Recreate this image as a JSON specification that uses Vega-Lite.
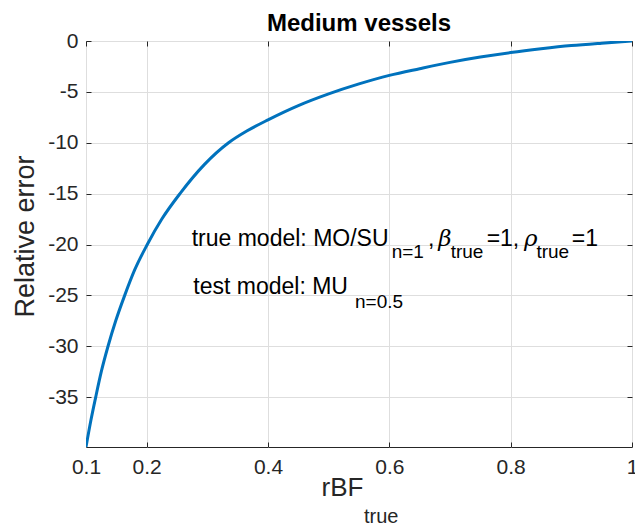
{
  "$schema": "https://vega.github.io/schema/vega-lite/v6.json",
  "width": 546,
  "height": 406,
  "autosize": {"type": "none"},
  "padding": {"left": 86, "top": 41, "right": 3, "bottom": 81},
  "config": {
    "font": "Liberation Sans",
    "view": {"stroke": "#262626", "strokeWidth": 1},
    "axis": {
      "domain": false,
      "gridColor": "#dedede",
      "gridWidth": 1,
      "tickColor": "#262626",
      "tickSize": -5,
      "labelColor": "#262626",
      "labelFont": "Liberation Sans",
      "labelFontSize": 21,
      "labelFlush": false,
      "titleFont": "Liberation Sans",
      "titleFontSize": 26,
      "titleFontWeight": "normal",
      "titleColor": "#262626"
    }
  },
  "datasets": {
    "curve": [
      {"rBF": 0.100, "err": -39.9},
      {"rBF": 0.108, "err": -37.3},
      {"rBF": 0.116, "err": -35.0},
      {"rBF": 0.1252, "err": -32.5},
      {"rBF": 0.1363, "err": -30.0},
      {"rBF": 0.149, "err": -27.5},
      {"rBF": 0.1638, "err": -25.0},
      {"rBF": 0.1802, "err": -22.5},
      {"rBF": 0.201, "err": -20.0},
      {"rBF": 0.225, "err": -17.5},
      {"rBF": 0.2549, "err": -15.0},
      {"rBF": 0.295, "err": -12.15},
      {"rBF": 0.335, "err": -10.0},
      {"rBF": 0.365, "err": -8.85},
      {"rBF": 0.400, "err": -7.75},
      {"rBF": 0.450, "err": -6.35},
      {"rBF": 0.500, "err": -5.2},
      {"rBF": 0.550, "err": -4.22},
      {"rBF": 0.600, "err": -3.38},
      {"rBF": 0.650, "err": -2.72},
      {"rBF": 0.700, "err": -2.1},
      {"rBF": 0.750, "err": -1.58},
      {"rBF": 0.800, "err": -1.14},
      {"rBF": 0.850, "err": -0.77},
      {"rBF": 0.900, "err": -0.45},
      {"rBF": 0.950, "err": -0.21},
      {"rBF": 1.000, "err": 0.0}
    ],
    "notes": [
      {"x": 0.55, "y": 0.98, "label": "Medium vessels", "kind": "title"},
      {"x": 0.2742, "y": -20.18, "label": "true model: MO/SU", "kind": "main"},
      {"x": 0.6039, "y": -21.29, "label": "n=1", "kind": "sub"},
      {"x": 0.6637, "y": -20.18, "label": ",", "kind": "main"},
      {"x": 0.6807, "y": -20.18, "label": "β", "kind": "greek"},
      {"x": 0.7011, "y": -21.29, "label": "true", "kind": "sub"},
      {"x": 0.7604, "y": -20.18, "label": "=1,", "kind": "main"},
      {"x": 0.8220, "y": -20.18, "label": "ρ", "kind": "greek"},
      {"x": 0.8425, "y": -21.29, "label": "true", "kind": "sub"},
      {"x": 0.9006, "y": -20.18, "label": "=1", "kind": "main"},
      {"x": 0.2769, "y": -24.9, "label": "test model: MU", "kind": "main"},
      {"x": 0.5434, "y": -26.2, "label": "n=0.5", "kind": "sub"},
      {"x": 0.5582, "y": -47.4, "label": "true", "kind": "axissub"}
    ]
  },
  "layer": [
    {
      "data": {"name": "curve"},
      "mark": {"type": "line", "color": "#0072BD", "strokeWidth": 3, "interpolate": "monotone", "clip": true},
      "encoding": {
        "x": {
          "field": "rBF", "type": "quantitative",
          "scale": {"domain": [0.1, 1], "nice": false, "zero": false},
          "axis": {
            "orient": "bottom",
            "values": [0.1, 0.2, 0.4, 0.6, 0.8, 1],
            "labelExpr": "'' + datum.value",
            "labelPadding": 14,
            "labelBaseline": "top",
            "title": "rBF",
            "titleX": 256,
            "titleY": 48,
            "titleBaseline": "alphabetic",
            "titleAlign": "center"
          }
        },
        "y": {
          "field": "err", "type": "quantitative",
          "scale": {"domain": [-39.9, 0], "nice": false, "zero": false},
          "axis": {
            "orient": "left",
            "values": [-35, -30, -25, -20, -15, -10, -5, 0],
            "labelExpr": "'' + datum.value",
            "labelPadding": 13,
            "title": "Relative error",
            "titleFontSize": 27,
            "titleX": -53,
            "titleY": 195,
            "titleAngle": -90,
            "titleBaseline": "alphabetic",
            "titleAlign": "center"
          }
        }
      }
    },
    {
      "data": {"name": "curve"},
      "mark": {"type": "line", "opacity": 0},
      "encoding": {
        "x": {
          "field": "rBF", "type": "quantitative",
          "axis": {"orient": "top", "values": [0.1, 0.2, 0.4, 0.6, 0.8, 1], "labels": false, "grid": false, "title": null}
        },
        "y": {
          "field": "err", "type": "quantitative",
          "axis": {"orient": "right", "values": [-35, -30, -25, -20, -15, -10, -5, 0], "labels": false, "grid": false, "title": null}
        }
      }
    },
    {
      "data": {"name": "notes"},
      "transform": [{"filter": "datum.kind == 'title'"}],
      "mark": {"type": "text", "align": "center", "baseline": "alphabetic", "fontSize": 24, "fontWeight": "bold", "color": "#000000", "font": "Liberation Sans"},
      "encoding": {
        "x": {"field": "x", "type": "quantitative", "axis": null},
        "y": {"field": "y", "type": "quantitative", "axis": null},
        "text": {"field": "label"}
      }
    },
    {
      "data": {"name": "notes"},
      "transform": [{"filter": "datum.kind == 'main'"}],
      "mark": {"type": "text", "align": "left", "baseline": "alphabetic", "fontSize": 23, "color": "#000000", "font": "Liberation Sans"},
      "encoding": {
        "x": {"field": "x", "type": "quantitative", "axis": null},
        "y": {"field": "y", "type": "quantitative", "axis": null},
        "text": {"field": "label"}
      }
    },
    {
      "data": {"name": "notes"},
      "transform": [{"filter": "datum.kind == 'greek'"}],
      "mark": {"type": "text", "align": "left", "baseline": "alphabetic", "fontSize": 23, "fontStyle": "italic", "color": "#000000", "font": "DejaVu Serif"},
      "encoding": {
        "x": {"field": "x", "type": "quantitative", "axis": null},
        "y": {"field": "y", "type": "quantitative", "axis": null},
        "text": {"field": "label"}
      }
    },
    {
      "data": {"name": "notes"},
      "transform": [{"filter": "datum.kind == 'sub'"}],
      "mark": {"type": "text", "align": "left", "baseline": "alphabetic", "fontSize": 19, "color": "#000000", "font": "Liberation Sans"},
      "encoding": {
        "x": {"field": "x", "type": "quantitative", "axis": null},
        "y": {"field": "y", "type": "quantitative", "axis": null},
        "text": {"field": "label"}
      }
    },
    {
      "data": {"name": "notes"},
      "transform": [{"filter": "datum.kind == 'axissub'"}],
      "mark": {"type": "text", "align": "left", "baseline": "alphabetic", "fontSize": 20, "color": "#262626", "font": "Liberation Sans"},
      "encoding": {
        "x": {"field": "x", "type": "quantitative", "axis": null},
        "y": {"field": "y", "type": "quantitative", "axis": null},
        "text": {"field": "label"}
      }
    }
  ],
  "resolve": {"axis": {"x": "independent", "y": "independent"}}
}
